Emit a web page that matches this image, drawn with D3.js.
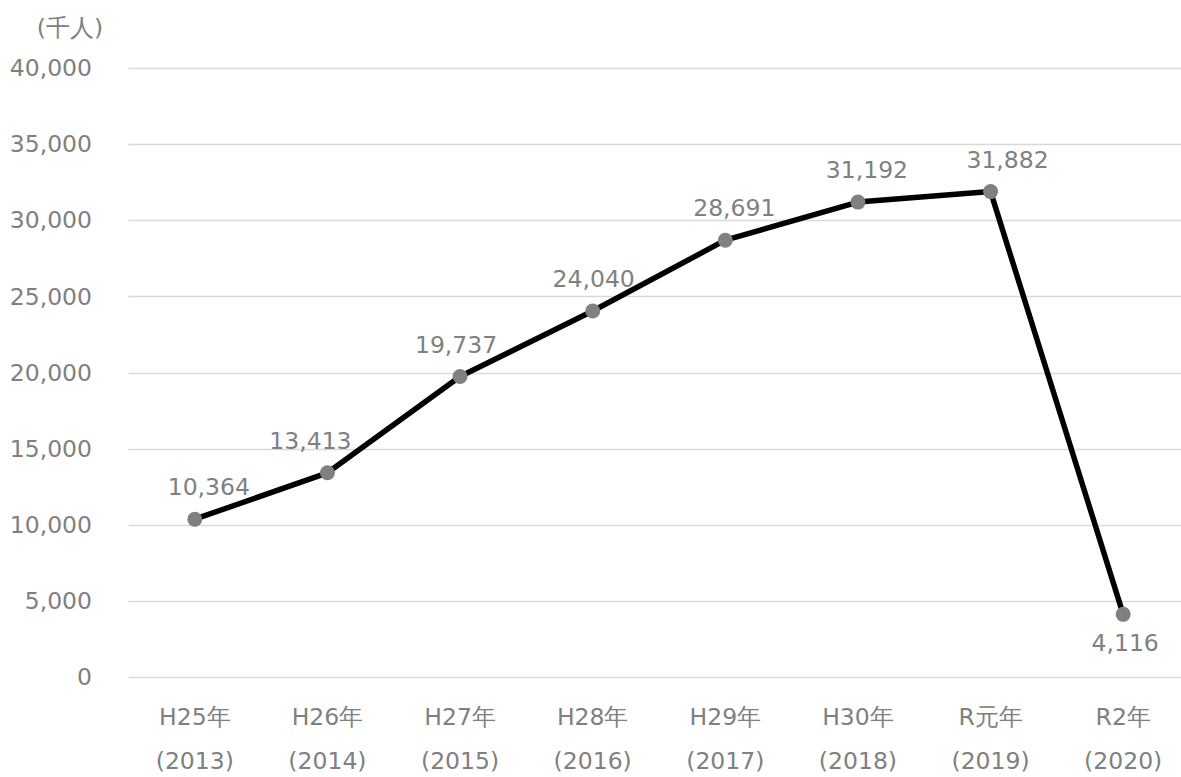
<!DOCTYPE html>
<html><head><meta charset="utf-8">
<script src="https://cdn.jsdelivr.net/npm/d3@7"></script>
<style>
html,body{margin:0;padding:0;background:#fff;}
svg text{font-family:"DejaVu Sans",Verdana,sans-serif;fill:#808080;}
</style></head>
<body><svg id="c" width="1181" height="777"></svg>
<script>
const eraLabels = ["H25年","H26年","H27年","H28年","H29年","H30年","R元年","R2年"];
const yearLabels = ["(2013)","(2014)","(2015)","(2016)","(2017)","(2018)","(2019)","(2020)"];
const visitors = [10364, 13413, 19737, 24040, 28691, 31192, 31882, 4116];
const yTicks = [0, 5000, 10000, 15000, 20000, 25000, 30000, 35000, 40000];
const unitLabel = "(千人)";

(function () {
const svg = d3.select("#c");
const pLeft = 128.5, pRight = 1189.5, pTop = 68, pBottom = 677;
const fs = 23.5;

const x = d3.scaleBand().domain(eraLabels).range([pLeft, pRight]);
const y = d3.scaleLinear().domain([0, 40000]).range([pBottom, pTop]);
const cx = d => x(d) + x.bandwidth() / 2;
const fmt = d3.format(",");

// gridlines
svg.append("g").selectAll("line").data(yTicks).join("line")
  .attr("x1", pLeft).attr("x2", pRight)
  .attr("y1", d => Math.round(y(d)) + 0.5).attr("y2", d => Math.round(y(d)) + 0.5)
  .attr("stroke", "#d9d9d9").attr("stroke-width", 1.5);

// y tick labels
svg.append("g").selectAll("text").data(yTicks).join("text")
  .attr("x", 92).attr("y", d => y(d)).attr("dy", "0.35em")
  .attr("text-anchor", "end").attr("font-size", fs)
  .text(d => fmt(d));

// unit label
svg.append("text").attr("x", 70).attr("y", 28).attr("dy", "0.35em")
  .attr("text-anchor", "middle").attr("font-size", fs).text(unitLabel);

// x labels
svg.append("g").selectAll("text").data(eraLabels).join("text")
  .attr("x", d => cx(d)).attr("y", 717).attr("dy", "0.35em")
  .attr("text-anchor", "middle").attr("font-size", fs).text(d => d);
svg.append("g").selectAll("text").data(yearLabels).join("text")
  .attr("x", (d, i) => cx(eraLabels[i])).attr("y", 761).attr("dy", "0.35em")
  .attr("text-anchor", "middle").attr("font-size", fs).text(d => d);

const pts = visitors.map((v, i) => ({cat: eraLabels[i], v}));

// line
svg.append("path").datum(pts)
  .attr("fill", "none").attr("stroke", "#000").attr("stroke-width", 5.5)
  .attr("stroke-linejoin", "round")
  .attr("d", d3.line().x(d => cx(d.cat)).y(d => y(d.v)));

// markers
svg.append("g").selectAll("circle").data(pts).join("circle")
  .attr("cx", d => cx(d.cat)).attr("cy", d => y(d.v)).attr("r", 7.5)
  .attr("fill", "#808080");

// data labels (last point below)
const labelDx = [14, -17, -4, 1, 9, 9, 17, 2];
svg.append("g").selectAll("text").data(pts).join("text")
  .attr("x", (d, i) => cx(d.cat) + labelDx[i])
  .attr("y", (d, i) => y(d.v) + (i === pts.length - 1 ? 28 : -32))
  .attr("dy", "0.35em").attr("text-anchor", "middle").attr("font-size", fs)
  .text(d => fmt(d.v));
})();
</script></body></html>
